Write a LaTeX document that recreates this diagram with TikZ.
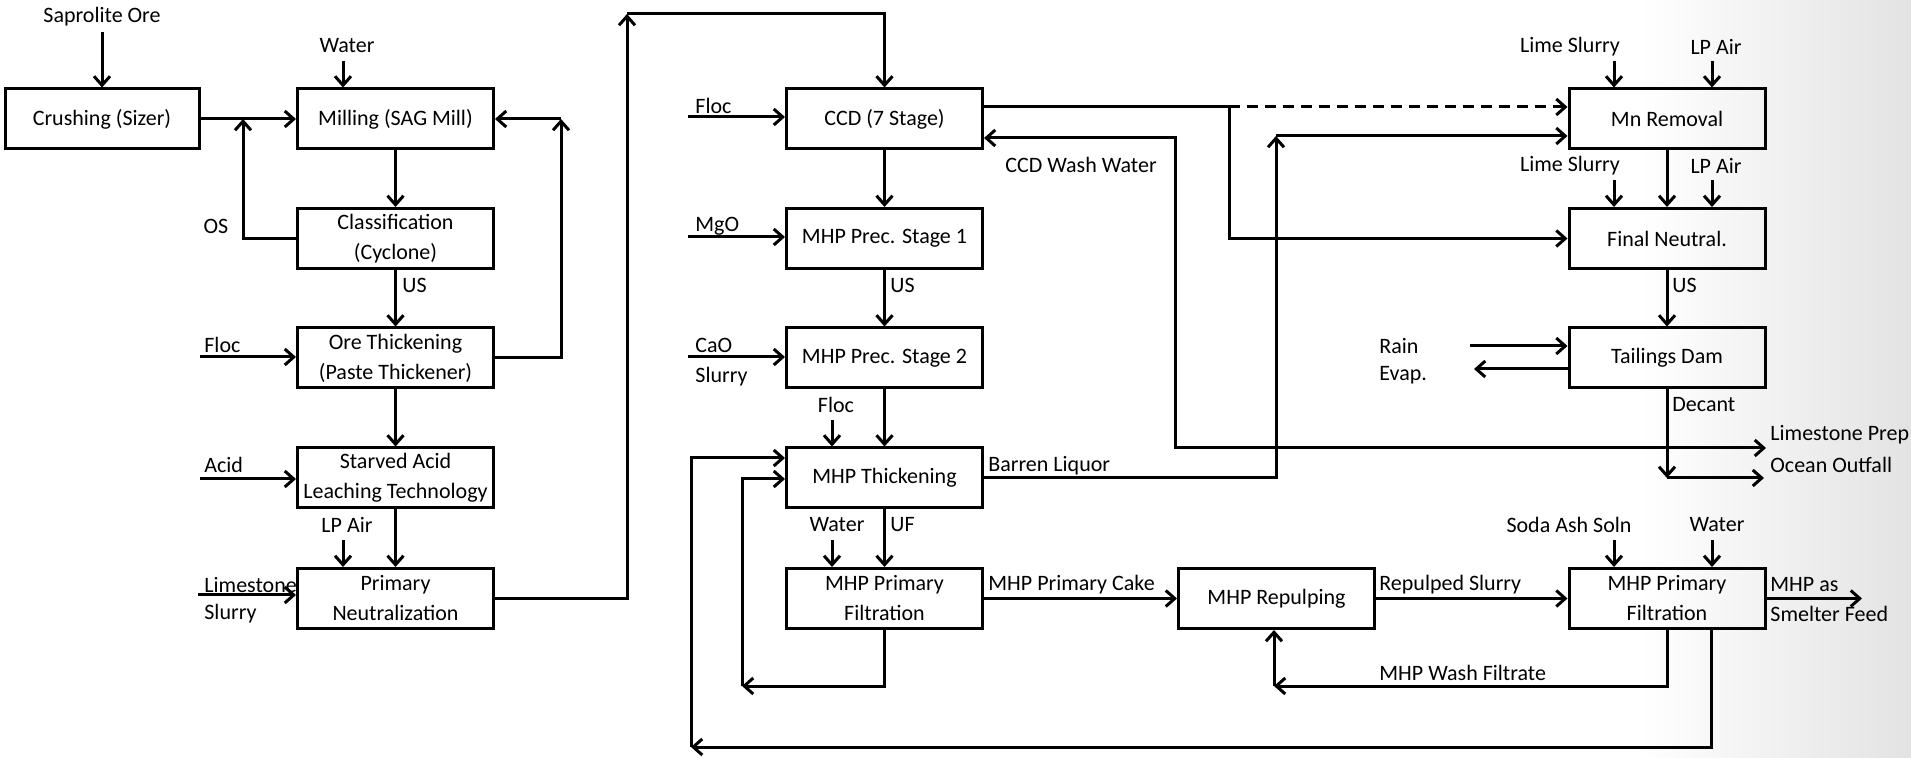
\documentclass[tikz,border=0pt]{standalone}
\usepackage{fontspec}
\setmainfont{Carlito}
\usetikzlibrary{arrows.meta}
\newcommand\lbl{\fontsize{11}{15}\selectfont}
\tikzset{
  box/.style={draw, line width=1.5pt, minimum width=98pt, minimum height=30pt, inner sep=1pt, align=center, font=\lbl},
  arr/.style={line width=1.5pt, -{Straight Barb[length=4.5pt,width=8pt]}},
  dbl/.style={line width=1.5pt, {Straight Barb[length=4.5pt,width=8pt]}-{Straight Barb[length=4.5pt,width=8pt]}},
  ln/.style={line width=1.5pt},
  lab/.style={font=\lbl, inner sep=0pt},
  dsh/.style={dash pattern=on 5.5pt off 3.5pt},
}
\begin{document}
\begin{tikzpicture}[x=0.5pt,y=-0.5pt]
\useasboundingbox (0,0) rectangle (1911,758);
\fill[white] (0,0) rectangle (1911,758);
\shade[left color=white, right color=black!11] (1640,0) rectangle (1911,758);

% boxes
\node[box, minimum width=97pt] (crush) at (102,119) {Crushing (Sizer)};
\node[box] (mill) at (395.5,119) {Milling (SAG Mill)};
\node[box] (cls)  at (395.5,238.5) {Classification\\(Cyclone)};
\node[box] (ore)  at (395.5,358) {Ore Thickening\\(Paste Thickener)};
\node[box] (sal)  at (395.5,478) {Starved Acid\\Leaching Technology};
\node[box] (prim) at (395.5,598.5) {Primary\\Neutralization};

\node[box] (ccd) at (884.5,119) {CCD (7 Stage)};
\node[box] (p1)  at (884.5,238.5) {MHP Prec. Stage 1};
\node[box] (p2)  at (884.5,358) {MHP Prec. Stage 2};
\node[box] (thk) at (884.5,478) {MHP Thickening};
\node[box] (fl1) at (884.5,598.5) {MHP Primary\\Filtration};

\node[box] (rep) at (1276.5,598.5) {MHP Repulping};

\node[box] (mn)   at (1667,119) {Mn Removal};
\node[box] (fn)   at (1667,238.5) {Final Neutral.};
\node[box] (tail) at (1667,358) {Tailings Dam};
\node[box] (fl2)  at (1667,598.5) {MHP Primary\\Filtration};

% labels
\node[lab] (tSap) at (102,17) {Saprolite Ore};
\node[lab] (tWat1) at (347,46) {Water};
\node[lab] (tOS) at (216,226) {OS};
\node[lab, anchor=west] (tUS1) at (402,285) {US};
\node[lab, anchor=west] (tFloc1) at (204,345) {Floc};
\node[lab, anchor=west] (tAcid) at (204,465) {Acid};
\node[lab] (tLP1) at (347,525) {LP Air};
\node[lab, anchor=west] (tLime) at (204,585) {Limestone};
\node[lab, anchor=west] (tSl1) at (204,614) {Slurry};

\node[lab, anchor=west] (tFloc2) at (695,106) {Floc};
\node[lab, anchor=west] (tMgO) at (695,226) {MgO};
\node[lab, anchor=west] (tUS2) at (890,285) {US};
\node[lab, anchor=west] (tCaO) at (695,345) {CaO};
\node[lab, anchor=west] (tSl2) at (695,377) {Slurry};
\node[lab] (tFloc3) at (836,405) {Floc};
\node[lab] (tWat2) at (837,525) {Water};
\node[lab, anchor=west] (tUF) at (890,525) {UF};
\node[lab, anchor=west] (tBL) at (988,466) {Barren Liquor};
\node[lab] (tCCDW) at (1081,165) {CCD Wash Water};
\node[lab, anchor=west] (tCake) at (988,585) {MHP Primary Cake};
\node[lab, anchor=west] (tRep) at (1379,585) {Repulped Slurry};
\node[lab, anchor=west] (tWF) at (1379,673) {MHP Wash Filtrate};

\node[lab] (tLS1) at (1570,47) {Lime Slurry};
\node[lab] (tLP2) at (1716,47) {LP Air};
\node[lab] (tLS2) at (1570,166) {Lime Slurry};
\node[lab] (tLP3) at (1716,166) {LP Air};
\node[lab, anchor=west] (tUS3) at (1672,285) {US};
\node[lab, anchor=west] (tRain) at (1379,346) {Rain};
\node[lab, anchor=west] (tEvap) at (1379,375) {Evap.};
\node[lab, anchor=west] (tDec) at (1672,405) {Decant};
\node[lab, anchor=west] (tLSP) at (1770,435) {Limestone Prep};
\node[lab, anchor=west] (tOO) at (1770,465) {Ocean Outfall};
\node[lab] (tSoda) at (1569,525) {Soda Ash Soln};
\node[lab] (tWat3) at (1717,525) {Water};
\node[lab, anchor=west] (tMHP1) at (1770,585) {MHP as};
\node[lab, anchor=west] (tMHP2) at (1770,614) {Smelter Feed};

% free-end coordinates
\coordinate (sapA) at (102,32);
\coordinate (watA) at (343,61);
\coordinate (osT) at (243,119);
\coordinate (flA) at (200,357);
\coordinate (lpT) at (561,119);
\coordinate (acA) at (200,479);
\coordinate (lpA) at (343,540);
\coordinate (lsA) at (198,595);
\coordinate (topL) at (627,14);
\coordinate (flB) at (688,117);
\coordinate (mgA) at (688,237);
\coordinate (caA) at (688,357);
\coordinate (flC) at (832,420);
\coordinate (blT) at (1276,136);
\coordinate (wwT) at (1175,138);
\coordinate (wwB) at (1175,448);
\coordinate (lsP) at (1766,448);
\coordinate (jn) at (1229,107);
\coordinate (lsM) at (1614,61);
\coordinate (lpM) at (1712,61);
\coordinate (lsF) at (1614,180);
\coordinate (lpF) at (1712,180);
\coordinate (rnA) at (1470,346);
\coordinate (evA) at (1474,369);
\coordinate (dcB) at (1667,478);
\coordinate (ooE) at (1764,478);
\coordinate (wtC) at (832,540);
\coordinate (ilB) at (742,686);
\coordinate (ilT) at (742,479);
\coordinate (olR) at (1711,747);
\coordinate (olB) at (691,747);
\coordinate (olT) at (691,458);
\coordinate (wfB) at (1274,686);
\coordinate (saA) at (1614,540);
\coordinate (wtD) at (1712,540);
\coordinate (mhE) at (1862,598.5);

% left column
\draw[arr] (sapA) -- (crush);
\draw[arr] (watA) -- (watA |- mill.north);
\draw[arr] (crush) -- (mill);
\draw[arr] (cls.west) -| (osT);
\draw[arr] (mill) -- (cls);
\draw[arr] (cls) -- (ore);
\draw[arr] (flA) -- (flA -| ore.west);
\draw[arr] (ore.east) -| (lpT);
\draw[arr] (lpT) -- (lpT -| mill.east);
\draw[arr] (ore) -- (sal);
\draw[arr] (acA) -- (acA -| sal.west);
\draw[arr] (lpA) -- (lpA |- prim.north);
\draw[arr] (sal) -- (prim);
\draw[arr] (lsA) -- (lsA -| prim.west);
\draw[arr] (prim.east) -| (topL);
\draw[arr] (topL) -| (ccd.north);

% middle column
\draw[arr] (flB) -- (flB -| ccd.west);
\draw[arr] (ccd) -- (p1);
\draw[arr] (mgA) -- (mgA -| p1.west);
\draw[arr] (p1) -- (p2);
\draw[arr] (caA) -- (caA -| p2.west);
\draw[arr] (flC) -- (flC |- thk.north);
\draw[arr] (p2) -- (thk);
\draw[arr] (thk.east) -| (blT);
\draw[arr] (blT) -- (blT -| mn.west);
\draw[dbl] (wwT -| ccd.east) -- (wwT) -- (wwB) -- (lsP);
\draw[ln] (jn -| ccd.east) -- (jn);
\draw[arr, dsh] (jn) -- (jn -| mn.west);
\draw[arr] (jn) |- (fn.west);
\draw[arr] (thk) -- (fl1);
\draw[arr] (wtC) -- (wtC |- fl1.north);
\draw[arr] (fl1) -- (rep);
\draw[arr] (fl1.south) |- (ilB);
\draw[arr] (ilB) -- (ilT) -- (ilT -| thk.west);
\draw[arr] (olR |- fl2.south) -- (olR) -- (olB);
\draw[arr] (olB) -- (olT) -- (olT -| thk.west);

% right column
\draw[arr] (lsM) -- (lsM |- mn.north);
\draw[arr] (lpM) -- (lpM |- mn.north);
\draw[arr] (mn) -- (fn);
\draw[arr] (lsF) -- (lsF |- fn.north);
\draw[arr] (lpF) -- (lpF |- fn.north);
\draw[arr] (fn) -- (tail);
\draw[arr] (rnA) -- (rnA -| tail.west);
\draw[arr] (evA -| tail.west) -- (evA);
\draw[arr] (tail.south) -- (dcB);
\draw[arr] (dcB) -- (ooE);
\draw[arr] (rep) -- (fl2);
\draw[arr] (fl2.south) |- (wfB);
\draw[arr] (wfB) -- (wfB |- rep.south);
\draw[arr] (saA) -- (saA |- fl2.north);
\draw[arr] (wtD) -- (wtD |- fl2.north);
\draw[arr] (fl2.east) -- (mhE);
\end{tikzpicture}
\end{document}
